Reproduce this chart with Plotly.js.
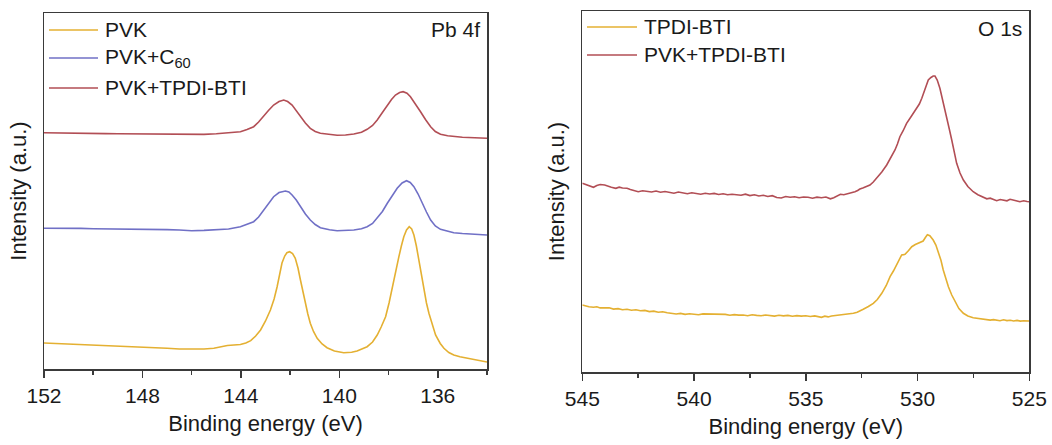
<!DOCTYPE html>
<html>
<head>
<meta charset="utf-8">
<script src="https://cdn.plot.ly/plotly-3.0.1.min.js"></script>
<style>
html,body{margin:0;padding:0;background:#fff;}
#chart{width:1052px;height:445px;}
</style>
</head>
<body>
<div id="chart"></div>
<script>
// ---------- Pb 4f panel ----------
const pbTicks = [152, 148, 144, 140, 136];
const pbMinorTicks = [150, 146, 142, 138, 134];

const pvkE = [152.0,151.5,151.0,150.5,150.0,149.5,149.0,148.5,148.0,147.5,147.0,146.5,146.0,145.5,145.1,144.84,144.55,144.02,143.8,143.6,143.4,143.2,143.0,142.8,142.65,142.53,142.43,142.33,142.22,142.13,142.02,141.9,141.79,141.68,141.58,141.48,141.38,141.28,141.18,141.05,140.9,140.7,140.5,140.2,139.82,139.5,139.28,139.05,138.87,138.65,138.46,138.3,138.12,137.98,137.85,137.7,137.58,137.48,137.38,137.27,137.16,137.06,136.97,136.87,136.77,136.67,136.57,136.46,136.36,136.2,136.09,135.9,135.75,135.55,135.35,135.1,134.8,134.4,134.05,134.0];
const pvkI = [26,25.5,25.3,25,24.5,24,23.5,22.8,22,21.5,20.8,20,19.7,20,20.7,21.7,23.5,24.5,26,28.3,33,39,48,59,70,82,94,106,113,116.3,117.3,115.5,110.7,101,89,77,65.7,55,45.7,37.5,30.7,25,21.3,18,16.3,16.8,18,20,22.3,27,34,42,52.3,66,82.3,98,112.3,123,132.3,139,142.3,140,134,123,109,94,79,66,55.7,43,34,25.5,20.7,16.5,14,12.2,10.7,9,7.3,7];

const c60E = [152.0,151.5,151.0,150.5,150.0,149.5,149.0,148.5,148.0,147.5,147.0,146.5,146.0,145.5,145.0,144.5,144.02,143.75,143.48,143.28,143.08,142.88,142.67,142.45,142.19,142.05,141.92,141.75,141.58,141.38,141.18,140.98,140.77,140.4,140.09,139.75,139.41,139.1,138.87,138.65,138.46,138.25,138.05,137.85,137.65,137.45,137.27,137.12,136.97,136.8,136.63,136.46,136.29,136.1,135.89,135.6,135.35,135.0,134.5,134.0];
const c60I = [140.7,140.8,140.5,140.6,140.3,140.2,140.3,140,140,139.6,139.4,139,138.3,138.6,139,140,142.3,144.5,147.3,152,159,165.5,172.3,176.5,178,177,174,169,162.3,155,149,144.5,141.3,139.2,138.3,138.3,139,140.3,142.3,145.5,150.7,157.5,165.7,173.5,180.7,186,188.3,186.5,182.3,175,165.7,157,149,143,139.7,137.5,136.3,135.5,134.8,134];

const tpdiPbE = [152.0,151.5,151.0,150.5,150.0,149.5,149.0,148.5,148.0,147.5,147.0,146.5,146.0,145.5,145.0,144.5,144.02,143.75,143.48,143.28,143.08,142.88,142.67,142.45,142.26,142.1,141.92,141.75,141.58,141.38,141.18,140.98,140.77,140.4,140.09,139.75,139.41,139.1,138.87,138.65,138.46,138.25,138.05,137.88,137.72,137.55,137.41,137.25,137.11,136.9,136.7,136.5,136.29,136.1,135.89,135.6,135.35,135.0,134.5,134.0];
const tpdiPbI = [236.3,236,235.8,236,235.5,235.4,235.3,235.2,235,234.6,234.5,234.3,234.3,234.6,235.3,236.3,237.3,239.5,242.3,247,253,258.5,264,267.5,269,267.5,264,258.5,252.3,246,240.7,237.5,235.7,234.3,233.7,234,235,236.8,239.7,243.5,249,256.5,264,269.5,274,276.5,277.3,275.8,272.3,265,257.3,249.5,242.3,237.5,234.7,233.2,232.3,231.8,231.2,230.7];

// ---------- O 1s panel ----------
const oTicks = [545, 540, 535, 530, 525];
const oMinorTicks = [542.5, 537.5, 532.5, 527.5];

const oPvkTpdiE = [545.0,544.85,544.7,544.5,544.35,544.2,544.0,543.85,543.7,543.5,543.35,543.2,543.0,542.85,542.7,542.5,542.3,542.1,541.9,541.7,541.5,541.3,541.1,540.9,540.7,540.5,540.3,540.1,539.9,539.7,539.5,539.3,539.1,538.9,538.7,538.5,538.3,538.1,537.9,537.7,537.5,537.3,537.1,536.9,536.7,536.5,536.3,536.1,535.9,535.7,535.5,535.3,535.1,534.9,534.7,534.5,534.3,534.1,533.9,533.75,533.6,533.45,533.3,533.1,532.95,532.8,532.68,532.58,532.45,532.3,532.13,531.98,531.83,531.6,531.38,531.2,531.01,530.9,530.79,530.65,530.49,530.3,530.15,530.04,529.92,529.81,529.68,529.52,529.4,529.3,529.22,529.12,529.0,528.85,528.7,528.58,528.47,528.36,528.25,528.1,527.95,527.75,527.51,527.3,527.06,526.9,526.75,526.6,526.46,526.3,526.15,526.0,525.86,525.7,525.55,525.42,525.25,525.1,525.0];
const oPvkTpdiI = [188.7,187.5,186,184.7,186.5,187.5,187,185.5,184.8,183.7,184.8,184,183.7,182.5,181.5,180.3,181.2,180.8,180,181,179.7,180.5,179.3,178.7,180,179,178.2,179.3,178.7,177.8,178.8,178,178.6,177.5,178.3,177.2,177.8,176.9,176.7,177.8,176.4,177.2,176,176.8,175.5,176.3,174.5,174,175.5,174.8,175.3,174.2,175,174.7,173.8,174.9,174.3,175,173.2,174.2,176,177.7,177.2,178.5,178.7,180.3,181.5,183,184,185.2,187,190,193.7,200,207,214,222,228,235.3,241,248.7,255,260,263.7,268,273.7,281,292,294.5,296,296,292,283.7,270,255.3,243,232,220,208.7,199,192,185.5,180.3,177.3,174.7,173.2,173.8,172.4,171.3,172.5,171.8,171.2,172.7,172.2,171,170.3,171.2,170.5,170.3];

const oTpdiE = [545.0,544.85,544.7,544.5,544.35,544.2,544.0,543.8,543.6,543.4,543.2,543.0,542.8,542.6,542.4,542.2,542.0,541.8,541.6,541.4,541.2,541.0,540.8,540.6,540.4,540.2,540.0,539.8,539.6,539.4,539.2,539.0,538.8,538.6,538.4,538.2,538.0,537.8,537.6,537.4,537.2,537.0,536.8,536.6,536.4,536.2,536.0,535.8,535.6,535.4,535.2,535.0,534.8,534.6,534.45,534.3,534.15,534.0,533.85,533.7,533.55,533.39,533.2,533.0,532.87,532.7,532.55,532.43,532.2,531.98,531.8,531.6,531.4,531.23,531.08,530.93,530.8,530.71,530.62,530.56,530.4,530.26,530.1,529.89,529.75,529.65,529.56,529.45,529.3,529.18,529.07,528.95,528.85,528.73,528.62,528.47,528.32,528.15,527.95,527.75,527.51,527.3,527.1,526.91,526.75,526.6,526.45,526.31,526.15,526.0,525.85,525.7,525.55,525.4,525.25,525.1,525.0];
const oTpdiI = [67,66,65.3,64.7,65.2,64.1,63.8,64.2,62.9,63.4,62.3,62.7,61.8,62.2,61.3,61.6,60.4,60.9,59.8,60.3,59.3,58.8,58,58.6,57.6,58.3,57.9,57.2,58.1,58,57.3,57.9,57.1,57.6,56.8,57.4,56.9,57,56.3,57.2,56.6,56.2,57,56.5,55.9,56.7,56.1,56.6,55.8,56.4,55.9,56.3,55.5,56.1,55.2,54.7,55.8,55.1,56,56.3,56.8,57,57.4,58,58.7,59.8,61.2,62.7,65.5,68.7,72.5,78.7,86.5,95.3,101,107,113,117,117.4,117.7,121.5,125.3,127.5,129.3,131,134.5,137.3,136.3,132,127,120.3,111.5,102,93,85.3,77,70.3,63.5,58.7,56,54.3,53.5,53,52.7,51.9,52.4,51.6,51.3,52.2,51.4,51.8,51,51.6,50.9,51.3,50.8,51];

const pbNames = ['PVK', 'PVK+C<sub>60</sub>', 'PVK+TPDI-BTI'];
const oNames = ['TPDI-BTI', 'PVK+TPDI-BTI'];

const cYellow = '#E4B032';
const cBlue = '#7070C6';
const cRed = '#B24E55';
const W = 1052, H = 445;
const FONT = 'Liberation Sans, Arial, sans-serif';
const TXT = '#1a1a1a';
const FRAME = '#3a3a3a';

function ln(x, y, name, color, xa, ya) {
  return {x: x, y: y, name: name, type: 'scatter', mode: 'lines', xaxis: xa, yaxis: ya,
          line: {color: color, width: 1.6}, showlegend: false, hoverinfo: 'x+y+name'};
}

const traces = [
  ln(pvkE, pvkI, pbNames[0], cYellow, 'x', 'y'),
  ln(c60E, c60I, 'PVK+C60', cBlue, 'x', 'y'),
  ln(tpdiPbE, tpdiPbI, pbNames[2], cRed, 'x', 'y'),
  ln(oTpdiE, oTpdiI, oNames[0], cYellow, 'x2', 'y2'),
  ln(oPvkTpdiE, oPvkTpdiI, oNames[1], cRed, 'x2', 'y2')
];

function px(v) { return v / W; }
function py(v) { return 1 - v / H; }

const xCommon = {
  showgrid: false, zeroline: false, showline: true, mirror: true,
  linecolor: FRAME, linewidth: 1.5,
  ticks: 'outside', ticklen: 7, tickwidth: 1.5, tickcolor: FRAME,
  tickfont: {family: FONT, size: 21, color: TXT},
  tickmode: 'array'
};
const yCommon = {
  showgrid: false, zeroline: false, showline: true, mirror: true,
  linecolor: FRAME, linewidth: 1.5, ticks: '', showticklabels: false
};

const shapes = [];
const annotations = [];
function legendRow(x0, x1, y, color, text) {
  shapes.push({type: 'line', xref: 'paper', yref: 'paper', x0: px(x0), x1: px(x1), y0: py(y), y1: py(y),
               line: {color: color, width: 1.6}});
  annotations.push({xref: 'paper', yref: 'paper', x: px(x1 + 5), y: py(y), xanchor: 'left', yanchor: 'middle',
                    text: text, showarrow: false, font: {family: FONT, size: 21, color: TXT}});
}
legendRow(49, 98, 30, cYellow, pbNames[0]);
legendRow(49, 98, 58, cBlue, pbNames[1]);
legendRow(49, 98, 88, cRed, pbNames[2]);
legendRow(587, 637, 27, cYellow, oNames[0]);
legendRow(587, 637, 55, cRed, oNames[1]);
annotations.push({xref: 'paper', yref: 'paper', x: px(482), y: py(30), xanchor: 'right', yanchor: 'middle',
                  text: 'Pb 4f', showarrow: false, font: {family: FONT, size: 21, color: TXT}});
annotations.push({xref: 'paper', yref: 'paper', x: px(1024), y: py(29), xanchor: 'right', yanchor: 'middle',
                  text: 'O 1s', showarrow: false, font: {family: FONT, size: 21, color: TXT}});

const layout = {
  width: W, height: H,
  margin: {l: 0, r: 0, t: 0, b: 0},
  paper_bgcolor: '#fff', plot_bgcolor: '#fff',
  showlegend: false,
  font: {family: FONT, color: TXT},
  xaxis: Object.assign({}, xCommon, {
    domain: [px(44), px(487)], range: [152, 134], anchor: 'y',
    tickvals: pbTicks, ticktext: pbTicks.map(String),
    minor: {tickmode: 'array', tickvals: pbMinorTicks, ticks: 'outside', ticklen: 4, tickwidth: 1.5, tickcolor: FRAME},
    title: {text: 'Binding energy (eV)', font: {family: FONT, size: 22, color: TXT}, standoff: 10}
  }),
  yaxis: Object.assign({}, yCommon, {
    domain: [1 - 369 / H, 1 - 13 / H], range: [0, 356], anchor: 'x',
    title: {text: 'Intensity (a.u.)', font: {family: FONT, size: 22, color: TXT}, standoff: 10}
  }),
  xaxis2: Object.assign({}, xCommon, {
    domain: [px(582.3), px(1029.3)], range: [545, 525], anchor: 'y2',
    tickvals: oTicks, ticktext: oTicks.map(String),
    minor: {tickmode: 'array', tickvals: oMinorTicks, ticks: 'outside', ticklen: 4, tickwidth: 1.5, tickcolor: FRAME},
    title: {text: 'Binding energy (eV)', font: {family: FONT, size: 22, color: TXT}, standoff: 10}
  }),
  yaxis2: Object.assign({}, yCommon, {
    domain: [1 - 372 / H, 1 - 11 / H], range: [0, 361], anchor: 'x2',
    title: {text: 'Intensity (a.u.)', font: {family: FONT, size: 22, color: TXT}, standoff: 10}
  }),
  shapes: shapes,
  annotations: annotations
};

Plotly.newPlot('chart', traces, layout, {displayModeBar: false, staticPlot: true});
</script>
</body>
</html>
